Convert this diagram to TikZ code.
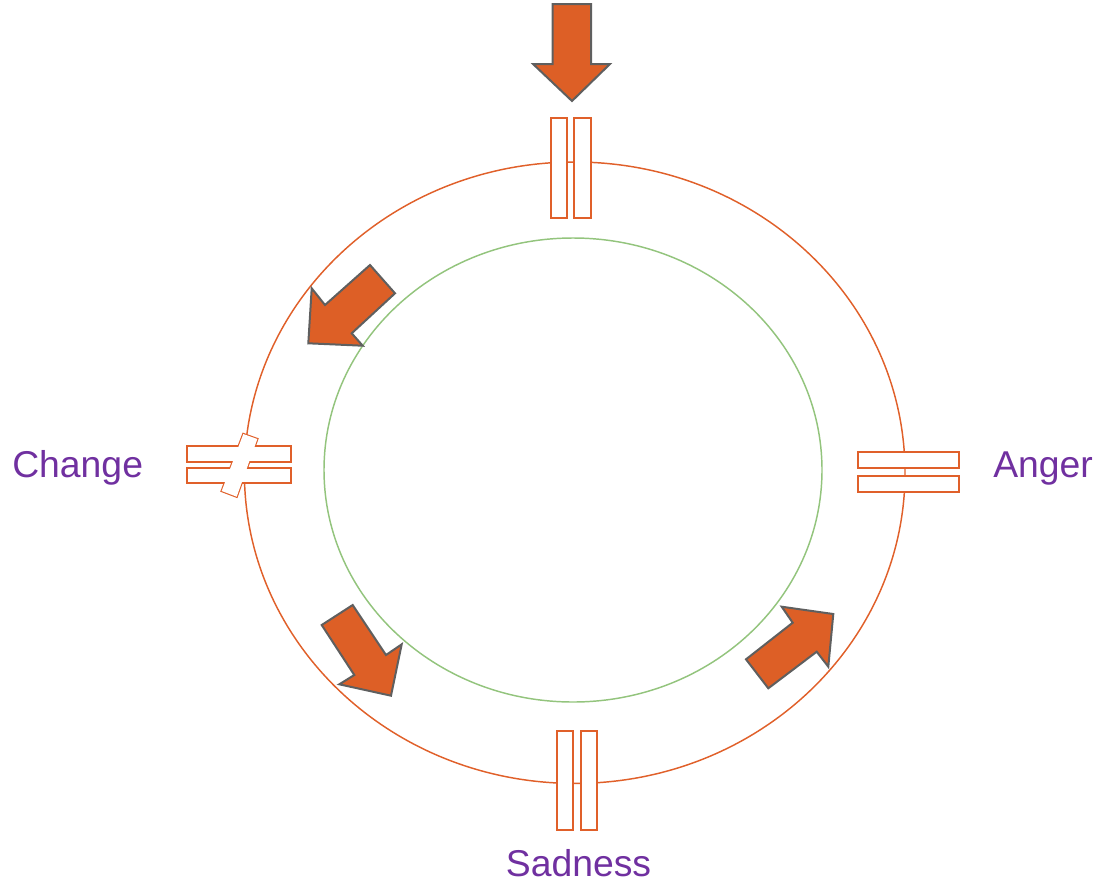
\documentclass[tikz,border=0pt]{standalone}
\usepackage{fontspec}
\setmainfont{Liberation Sans}
\usetikzlibrary{positioning}
\definecolor{rim}{HTML}{E0602A}
\definecolor{core}{HTML}{93C47D}
\definecolor{push}{HTML}{DD5F26}
\definecolor{edge}{HTML}{5F5F5F}
\definecolor{mood}{HTML}{7030A0}

\begin{document}
\begin{tikzpicture}[x=0.75pt,y=-0.75pt,
  ring/.style={line width=1.1pt},
  bar/.style={draw=rim,fill=white,line width=1.7pt},
  blockarrow/.style={draw=edge,fill=push,line width=1.5pt,line join=miter},
  label/.style={text=mood,inner sep=0pt,font=\fontsize{28}{33}\selectfont}]
\useasboundingbox (0,0) rectangle (1099,886);
\draw[ring,draw=rim] (574.7,472.7) ellipse [x radius=330.3,y radius=310.7];
\draw[ring,draw=core] (573,470) ellipse [x radius=249,y radius=232];
\draw[blockarrow] (552.7,4)--(591,4)--(591,64)--(610,64)--(572,101)--(533,64)--(552.7,64)--cycle;
\draw[blockarrow] (370,265)--(395,293.3)--(351.7,333.3)--(362.7,345.7)--(308.3,343.3)--(311.7,288.3)--(325,305)--cycle;
\draw[blockarrow] (321.7,625)--(352.7,605)--(386,655)--(401.7,644.3)--(391,695.7)--(339.3,684.3)--(354.3,675)--cycle;
\draw[blockarrow] (768.3,688.3)--(746,659.3)--(792.7,622.7)--(781.7,606.7)--(833.3,614)--(828.3,666.7)--(816.7,651.7)--cycle;
\draw[bar] (551,118) rectangle (566.7,218);
\draw[bar] (574,118) rectangle (590.7,218);
\draw[bar] (557.3,730.7) rectangle (573.3,830);
\draw[bar] (580.7,730.7) rectangle (596.7,830);
\draw[bar] (858.3,452.3) rectangle (959,468.3);
\draw[bar] (858.3,475.7) rectangle (959,492.3);
\draw[bar] (243.3,434)--(257.3,439)--(236.7,496.7)--(221.7,491)--cycle;
\draw[bar] (187,446) rectangle (290.7,461.7);
\draw[bar] (187,468) rectangle (290.7,483);
\fill[white] (243.3,434)--(257.3,439)--(236.7,496.7)--(221.7,491)--cycle;
\node[label,anchor=base west] (change) at (12,477.3) {Change};
\node[label,anchor=base west] (anger) at (993,477.3) {Anger};
\node[label,anchor=base] (sadness) at (578.5,876.7) {Sadness};
\end{tikzpicture}
\end{document}
